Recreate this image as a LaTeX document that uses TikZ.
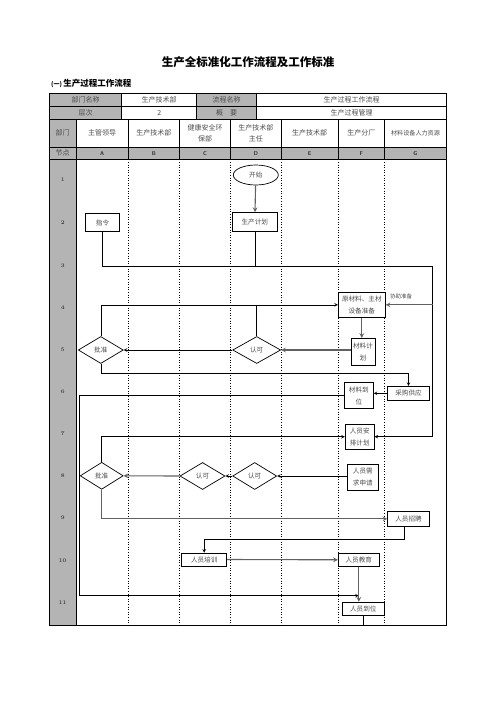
\documentclass[tikz,border=0pt]{standalone}
\usepackage{fontspec}
\usepackage{tikz}
\usetikzlibrary{shapes.geometric, arrows}
\newfontfamily\cjk{Noto Sans CJK SC}
\definecolor{cellgray}{RGB}{180,180,180}
\tikzstyle{arrow} = [line width=0.6pt,->,>=stealth]
\tikzstyle{grayarrow} = [line width=1.1pt,draw=black!62,->,>=stealth]
\tikzstyle{line} = [line width=0.6pt]

\begin{document}
\begin{tikzpicture}[x=1pt,y=-1pt,
  grid/.style={line width=0.7pt},
  lane/.style={line width=0.6pt,dotted},
  hdr/.style={font=\cjk\fontsize{7}{11}\selectfont, text=black!70, align=center, inner sep=0pt},
  rowlbl/.style={font=\fontsize{5.5}{6}\selectfont\bfseries, text=black!75},
  letter/.style={font=\sffamily\bfseries\fontsize{5.5}{6}\selectfont, text=black!80},
  box/.style={draw, line width=0.7pt, fill=white, inner sep=1pt, font=\cjk\fontsize{6.6}{12}\selectfont, text=black!70, align=center},
  decision/.style={diamond, draw, line width=0.7pt, fill=white, inner sep=0pt, minimum height=27pt, font=\cjk\fontsize{6.6}{8}\selectfont, text=black!70},
  startnode/.style={ellipse, draw, line width=0.7pt, fill=white, inner sep=0pt, minimum width=45pt, minimum height=20pt, font=\cjk\fontsize{6.6}{8}\selectfont, text=black!70},
  note/.style={font=\cjk\fontsize{5.5}{6}\selectfont, text=black!70, inner sep=0pt}]
\useasboundingbox (0,0) rectangle (496,702);

% titles
\node (title) at (248,61.7) {\cjk\bfseries\fontsize{11.5}{12}\selectfont 生产全标准化工作流程及工作标准};
\node[anchor=west, inner sep=0pt] (subtitle) at (51,83.3) {\cjk\bfseries\fontsize{6}{8}\selectfont (一)\ \fontsize{8.5}{10}\selectfont 生产过程工作流程};

% table
\fill[cellgray] (49.3,93) rectangle (121.7,119.3);
\fill[cellgray] (196.7,93) rectangle (256.7,119.3);
\fill[cellgray] (49.3,119.3) rectangle (76,147.3);
\fill[cellgray] (49.3,147.3) rectangle (446.7,159.3);
\fill[cellgray] (49.3,159.3) rectangle (76,625);
\draw[grid] (49.3,93) rectangle (446.7,625);
\foreach \y in {106.7,119.3,147.3,159.3}
  \draw[grid] (49.3,\y) -- (446.7,\y);
\foreach \x in {121.7,196.7,256.7}
  \draw[grid] (\x,93) -- (\x,119.3);
\draw[grid] (76,119.3) -- (76,625);
\foreach \x in {128.3,179.3,230.7,281,338.3,384.3} {
  \draw[grid] (\x,119.3) -- (\x,159.3);
  \draw[lane] (\x,159.3) -- (\x,625);
}

% header texts
\node[hdr] (h11) at (85.5,100) {部门名称};
\node[hdr] (h12) at (159.2,100) {生产技术部};
\node[hdr] (h13) at (226.7,100) {流程名称};
\node[hdr] (h14) at (351.7,100) {生产过程工作流程};
\node[hdr] (h21) at (85.5,113) {层次};
\node[hdr] (h22) at (159.2,113) {2};
\node[hdr] (h23) at (226.7,113) {概\quad 要};
\node[hdr] (h24) at (351.7,113) {生产过程管理};
\node[hdr] (h31) at (62.7,133.3) {部门};
\node[hdr] (h32) at (102.2,133.3) {主管领导};
\node[hdr] (h33) at (153.8,133.3) {生产技术部};
\node[hdr] (h34) at (205,133.3) {健康安全环\\保部};
\node[hdr] (h35) at (255.8,133.3) {生产技术部\\主任};
\node[hdr] (h36) at (309.7,133.3) {生产技术部};
\node[hdr] (h37) at (361.3,133.3) {生产分厂};
\node[hdr, font=\cjk\fontsize{6.1}{8}\selectfont] (h38) at (415.5,133.3) {材料设备人力资源};
\node[hdr] (h41) at (62.7,153.3) {节点};
\foreach \c/\x in {A/102.2,B/153.8,C/205,D/255.8,E/309.7,F/361.3,G/415.5}
  \node[letter] (col\c) at (\x,153.3) {\c};
\foreach \n/\y in {1/180,2/223,3/266,4/308,5/350,6/392,7/434,8/476,9/518,10/561,11/603}
  \node[rowlbl] (r\n) at (62.7,\y) {\n};

% flow nodes
\node[startnode] (start) at (255.8,175) {开始};
\node[box, minimum width=45pt, minimum height=19pt] (plan) at (254.8,222) {生产计划};
\node[box, minimum width=34pt, minimum height=18pt] (order) at (102.5,222.5) {指令};
\node[box, minimum width=47pt, minimum height=25pt] (prep) at (361.8,304.8) {原材料、主材\\设备准备};
\node[note] (helplbl) at (401,296) {协助准备};
\node[decision, minimum width=45pt] (appr1) at (100.8,350) {批准};
\node[decision, minimum width=48pt] (ok1) at (256.7,350) {认可};
\node[box, minimum width=24pt, minimum height=27pt] (matplan) at (363,351.8) {材料计\\划};
\node[box, minimum width=41.6pt, minimum height=14pt] (purch) at (408.5,393.3) {采购供应};
\node[box, minimum width=29pt, minimum height=25.6pt] (arrive) at (358.8,395.5) {材料到\\位};
\node[box, minimum width=29pt, minimum height=25pt] (staffplan) at (359.7,436.7) {人员安\\排计划};
\node[decision, minimum width=43pt] (appr2) at (101.7,475.8) {批准};
\node[decision, minimum width=45pt] (ok2) at (202.5,476) {认可};
\node[decision, minimum width=44pt] (ok3) at (254.7,476) {认可};
\node[box, minimum width=31pt, minimum height=26pt] (need) at (362.8,477.5) {人员需\\求申请};
\node[box, minimum width=41.6pt, minimum height=15.6pt] (recruit) at (408.5,518.8) {人员招聘};
\node[box, minimum width=45pt, minimum height=13pt] (train) at (204.2,559.5) {人员培训};
\node[box, minimum width=41pt, minimum height=13pt] (edu) at (358.8,559.8) {人员教育};
\node[box, minimum width=42pt, minimum height=13.3pt] (staffin) at (363.3,608.7) {人员到位};

% connectors
\coordinate (busR) at (432.7,266.7);
\coordinate (loopL) at (79.3,595.7);
\coordinate (tblbot) at (364,625);
\draw[grayarrow] (start) -- (plan);
\draw[line] (order.south) |- (busR) -- (busR |- staffplan.east);
\draw[line] (plan.south) -- (plan.south |- busR);
\draw[grayarrow] (busR |- prep.east) -- (prep.east);
\draw[arrow] (busR |- staffplan.east) -- (staffplan.east);
\draw[arrow] (appr1.north) |- (prep.west);
\draw[line] (ok1.north) -- (ok1.north |- prep.west);
\draw[grayarrow] (prep.south) -- (prep.south |- matplan.north);
\draw[grayarrow] (matplan.west |- ok1.east) -- (ok1.east);
\draw[arrow] (ok1.west) -- (appr1.east);
\draw[arrow] (appr1.south) -- ++(0,9.4) -| (purch.north);
\draw[arrow] (purch.west) -- (arrive.east |- purch.west);
\draw[arrow] (arrive.west) -| (loopL) -- (edu.south |- loopL);
\draw[arrow] (appr2.north) |- (staffplan.west);
\draw[arrow] (need.west |- ok3.east) -- (ok3.east);
\draw[arrow] (ok3.west) -- (ok2.east);
\draw[grayarrow] (ok2.west) -- (appr2.east);
\draw[grayarrow] (appr2.south) |- (recruit.west);
\draw[arrow] ([xshift=-4pt]recruit.south) -- ++(0,12.3) -| (train.north);
\draw[grayarrow] (train.east) -- (edu.west);
\draw[grayarrow] (edu.south) -- (edu.south |- staffin.north);
\draw[line] (staffin.south) -- (staffin.south |- tblbot);
\end{tikzpicture}
\end{document}
